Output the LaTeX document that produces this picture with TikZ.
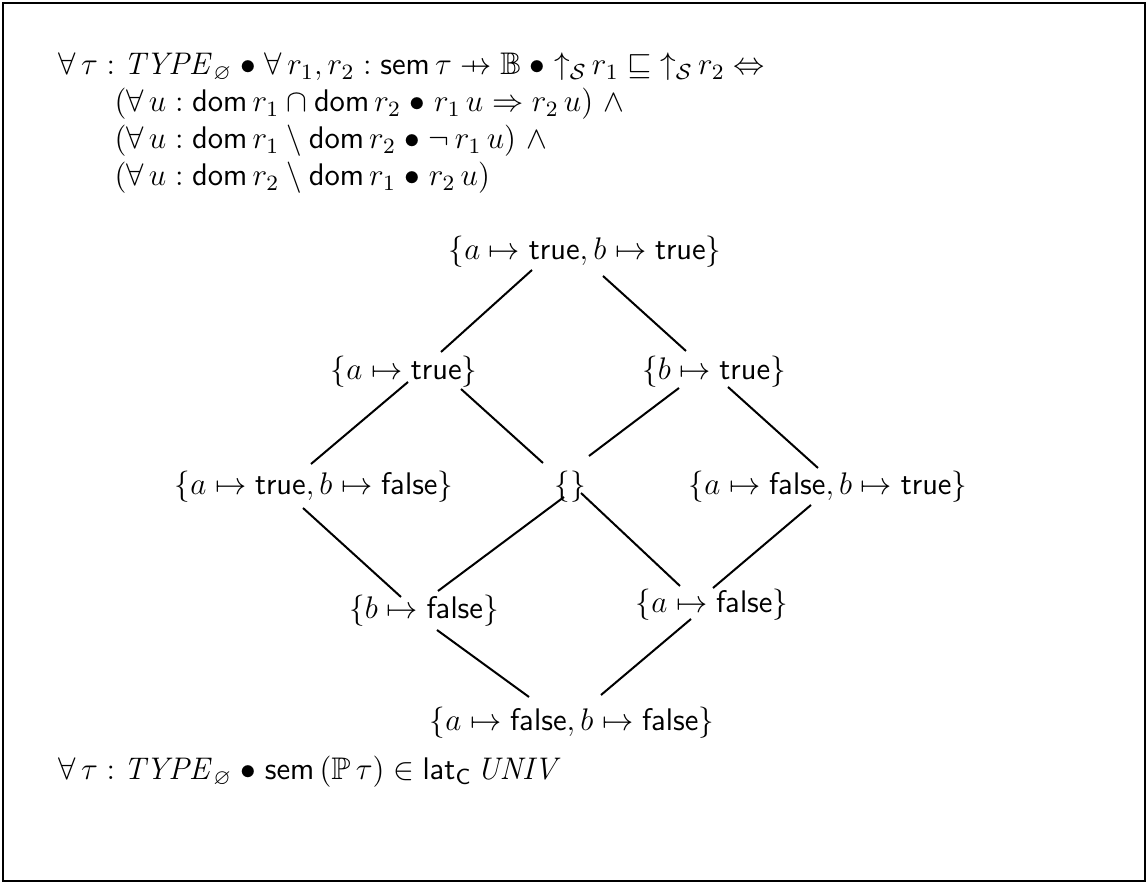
\documentclass[tikz,border=0pt]{standalone}
\usepackage{fix-cm}
\usepackage{amsmath,amssymb}
\usepackage{tikz}
\usetikzlibrary{positioning,calc}
% Z notation bits
\newcommand{\zspot}{\mathrel{\bullet}}
\newcommand{\zpfun}{\mathrel{\ooalign{\hfil$\mapstochar\mkern5mu$\hfil\cr$\rightarrow$\cr}}}
\newcommand{\zup}{{\uparrow_{\mathcal{S}}}\,}
\newcommand{\zdom}{\mathsf{dom}\,}
\tikzset{
  frame/.style={draw, line width=1pt},
  formula/.style={anchor=base west, inner sep=0pt, font=\fontsize{12.5}{15}\selectfont},
  elem/.style={inner sep=0pt, font=\fontsize{12.5}{15}\selectfont},
  order/.style={line width=0.8pt}
}
\begin{document}
\begin{tikzpicture}[x=0.4pt, y=-0.4pt]
  \useasboundingbox (0,0) rectangle (1148,884);
  \draw[frame] (3,3) rectangle (1145,881);

  % the ordering
  \node[formula] (spec1) at (58,75)
    {$\forall\,\tau : \mathit{TYPE}_{\varnothing} \zspot \forall\, r_1, r_2 : \mathsf{sem}\,\tau \zpfun \mathbb{B} \zspot \zup r_1 \sqsubseteq \zup r_2 \Leftrightarrow$};
  \node[formula] (spec2) at (114,112)
    {$(\forall\, u : \zdom r_1 \cap \zdom r_2 \zspot r_1\, u \Rightarrow r_2\, u)\ \land$};
  \node[formula] (spec3) at (114,149)
    {$(\forall\, u : \zdom r_1 \setminus \zdom r_2 \zspot \lnot\, r_1\, u)\ \land$};
  \node[formula] (spec4) at (114,186)
    {$(\forall\, u : \zdom r_2 \setminus \zdom r_1 \zspot r_2\, u)$};

  % lattice
  \node[elem] (tt) at (585,252) {$\{a \mapsto \mathsf{true}, b \mapsto \mathsf{true}\}$};
  \node[elem] (at) at (404,372) {$\{a \mapsto \mathsf{true}\}$};
  \node[elem] (bt) at (714,372) {$\{b \mapsto \mathsf{true}\}$};
  \node[elem] (tf) at (314,487) {$\{a \mapsto \mathsf{true}, b \mapsto \mathsf{false}\}$};
  \node[elem] (none) at (570,487) {$\{\}$};
  \node[elem] (ft) at (828,487) {$\{a \mapsto \mathsf{false}, b \mapsto \mathsf{true}\}$};
  \node[elem] (bf) at (424,611) {$\{b \mapsto \mathsf{false}\}$};
  \node[elem] (af) at (712,605) {$\{a \mapsto \mathsf{false}\}$};
  \node[elem] (ff) at (572,723) {$\{a \mapsto \mathsf{false}, b \mapsto \mathsf{false}\}$};

  \draw[order] ([shift={(-53,18)}]tt.center) -- ([shift={(37,-20)}]at.center);
  \draw[order] ([shift={(18,24)}]tt.center) -- ([shift={(-28,-21)}]bt.center);
  \draw[order] ([shift={(4,10)}]at.center) -- ([shift={(-3,-23)}]tf.center);
  \draw[order] ([shift={(57,17)}]at.center) -- ([shift={(-27,-24)}]none.center);
  \draw[order] ([shift={(-35,16)}]bt.center) -- ([shift={(19,-31)}]none.center);
  \draw[order] ([shift={(14,15)}]bt.center) -- ([shift={(-10,-19)}]ft.center);
  \draw[order] ([shift={(-11,21)}]tf.center) -- ([shift={(-23,-14)}]bf.center);
  \draw[order] ([shift={(-6,10)}]none.center) -- ([shift={(14,-20)}]bf.center);
  \draw[order] ([shift={(11,6)}]none.center) -- ([shift={(-32,-19)}]af.center);
  \draw[order] ([shift={(-17,18)}]ft.center) -- ([shift={(1,-17)}]af.center);
  \draw[order] ([shift={(13,19)}]bf.center) -- ([shift={(-43,-26)}]ff.center);
  \draw[order] ([shift={(-21,14)}]af.center) -- ([shift={(29,-28)}]ff.center);

  \node[formula] (latline) at (58,780)
    {$\forall\,\tau : \mathit{TYPE}_{\varnothing} \zspot \mathsf{sem}\,(\mathbb{P}\,\tau) \in \mathsf{lat}_{\mathsf{C}}\, \mathit{UNIV}$};
\end{tikzpicture}
\end{document}
